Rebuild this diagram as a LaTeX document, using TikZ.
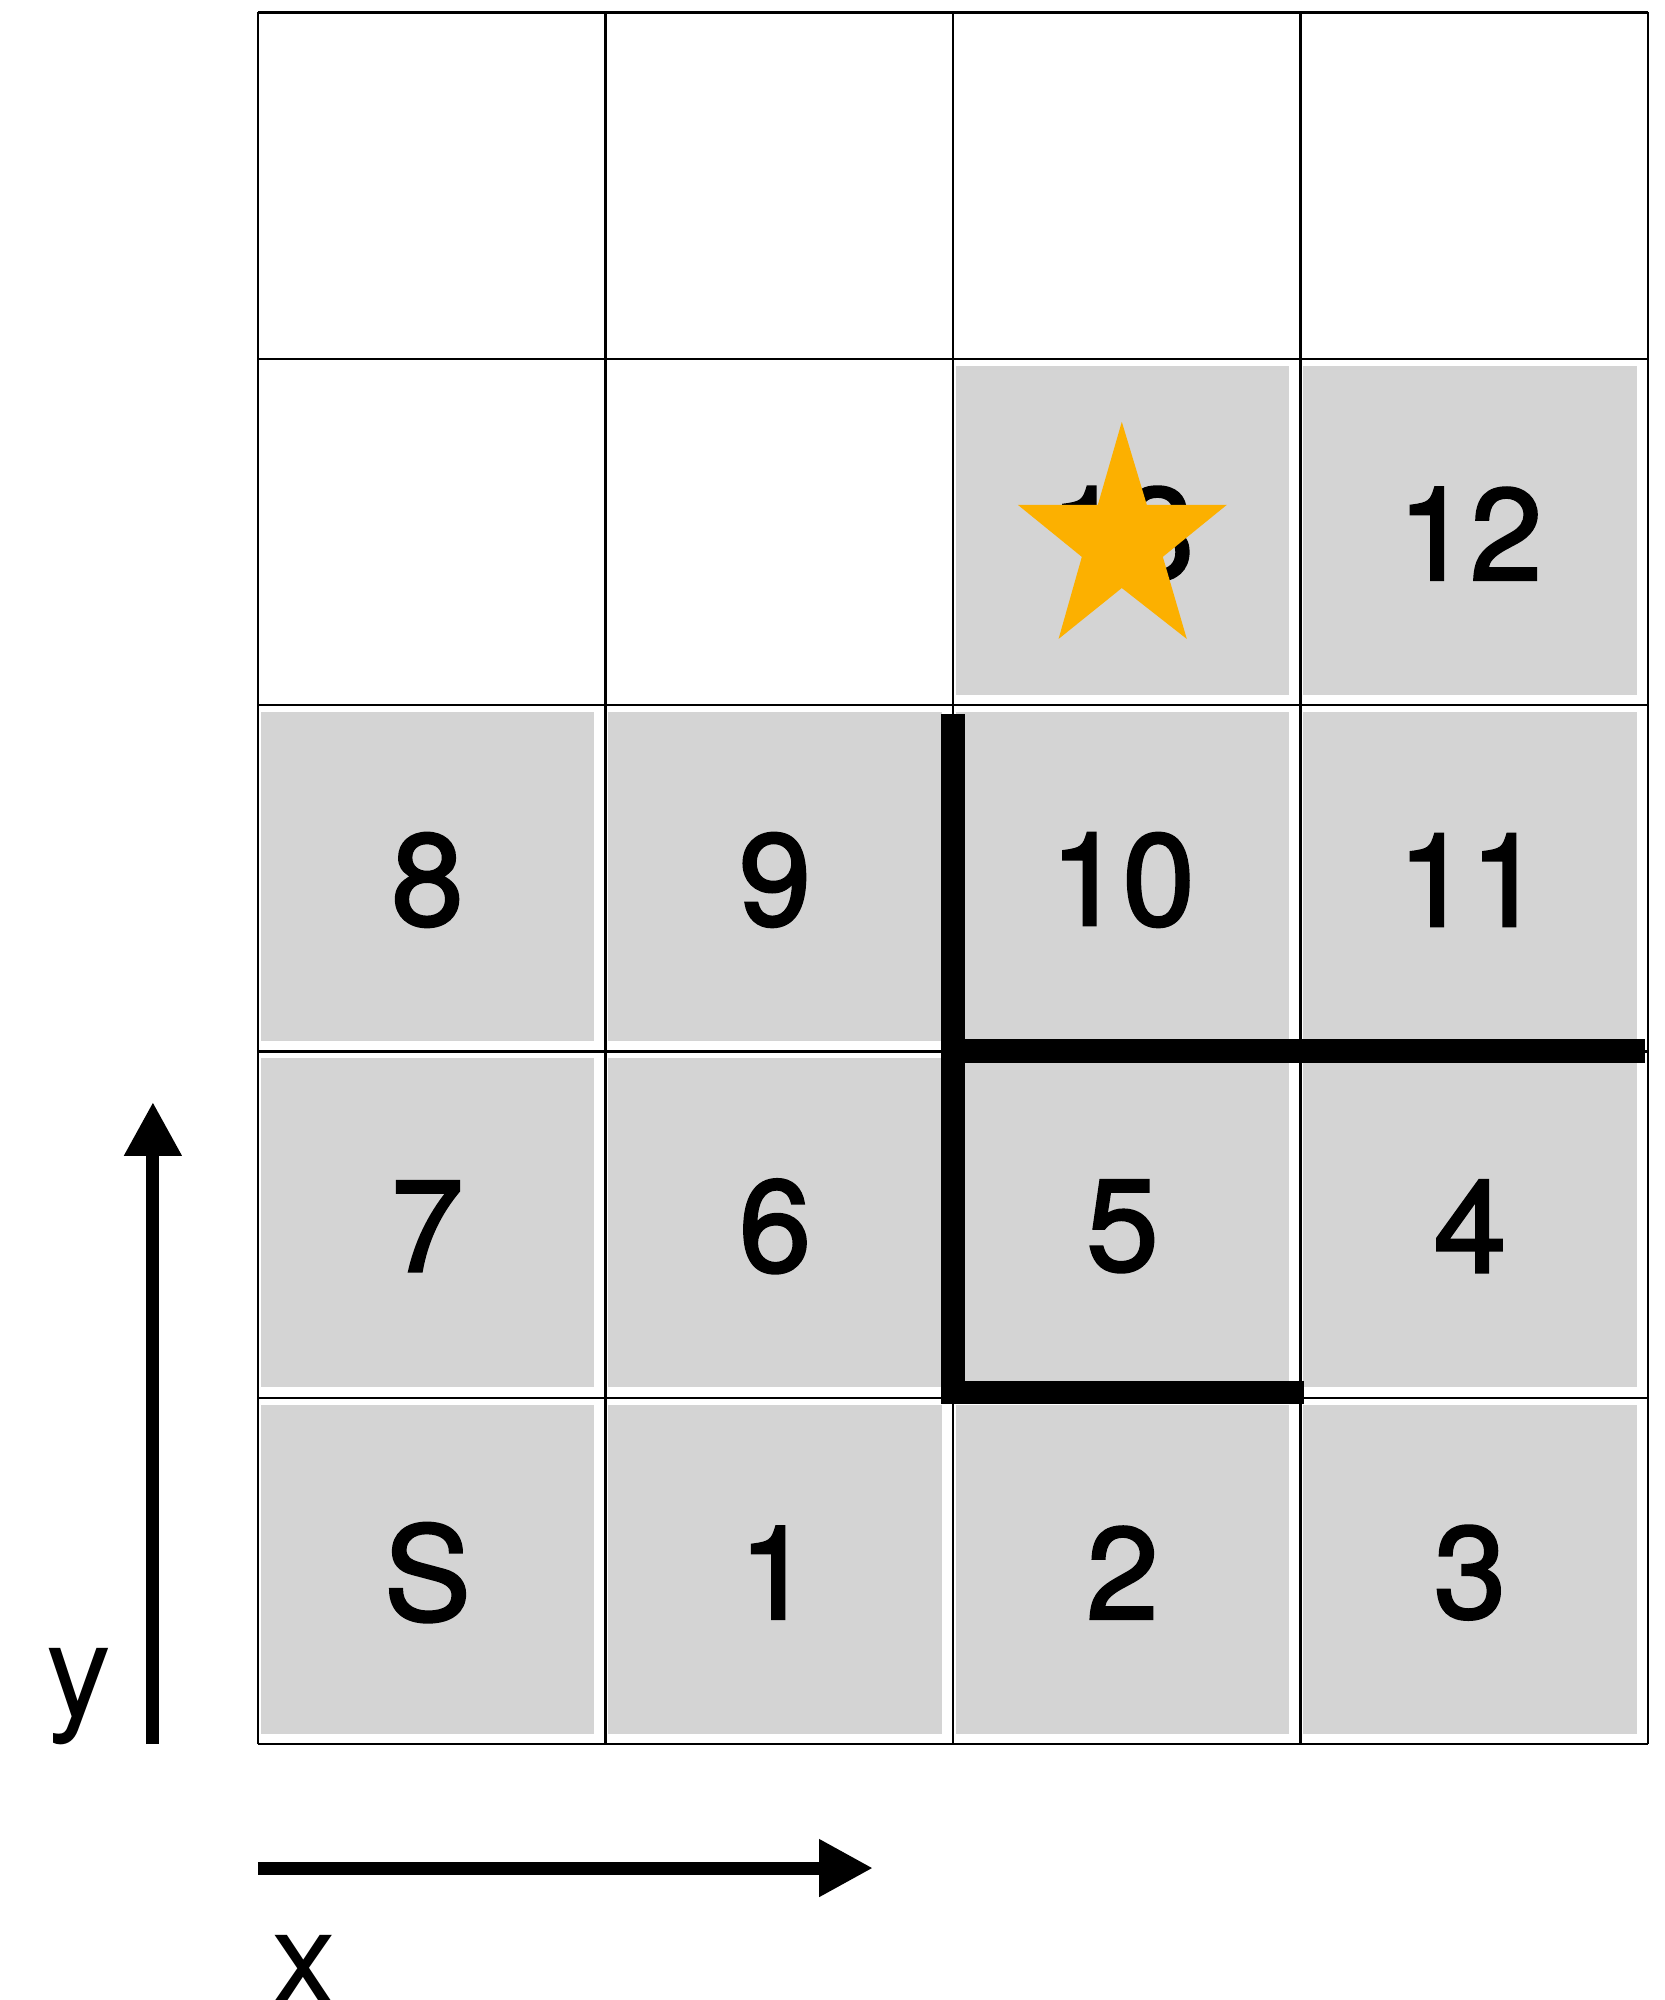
\documentclass[tikz,border=0pt]{standalone}
\usepackage{fontspec}
\setmainfont{TeX Gyre Heros}
\newfontfamily\cellfont[BoldFont={TeX Gyre Heros}, BoldFeatures={FakeBold=2}]{TeX Gyre Heros}
\usetikzlibrary{arrows.meta}
\definecolor{cgrey}{HTML}{D4D4D4}
\definecolor{cgold}{HTML}{FCB000}
\tikzset{
  every picture/.style={font=\fontsize{37}{44}\selectfont},
  cellfill/.style={fill=cgrey},
  cell/.style={inner sep=0pt, anchor=center, font=\fontsize{37}{44}\cellfont\bfseries},
  gridline/.style={line width=0.65pt},
  wall/.style={line width=6.6pt},
  axis/.style={-{Triangle[length=15.3pt, width=15.4pt]}, line width=3.7pt},
  axislabel/.style={inner sep=0pt, anchor=base},
}

\begin{document}
\begin{tikzpicture}[x=3.475cm, y=3.463cm]
  \useasboundingbox (-0.742,-0.739) rectangle (4.049,5.036);
  \foreach \c/\r/\t in {0/0/S, 1/0/1, 2/0/2, 3/0/3, 0/1/7, 1/1/6, 2/1/5, 3/1/4,
                         0/2/8, 1/2/9, 2/2/10, 3/2/11, 2/3/13, 3/3/12} {
    \fill[cellfill] (\c+0.008,\r+0.03) rectangle (\c+0.968,\r+0.98);
    \node[cell] (n\t) at (\c+0.488,\r+0.495) {\t};
  }
  \foreach \c in {0,...,4} \draw[gridline] (\c,0) -- (\c,5);
  \foreach \r in {0,...,5} \draw[gridline] (0,\r) -- (4,\r);
  \fill[cgold] (2.486,3.818) -- (2.558,3.578) -- (2.788,3.578) -- (2.604,3.428)
    -- (2.673,3.191) -- (2.486,3.338) -- (2.304,3.191) -- (2.371,3.428)
    -- (2.187,3.578) -- (2.417,3.578) -- cycle;
  \draw[wall] (2,2.974) -- (2,1.016) -- (3.01,1.016);
  \draw[wall] (2,2.001) -- (3.99,2.001);
  \coordinate (yfoot) at (-0.302,0);
  \coordinate (ytip) at (-0.302,1.854);
  \coordinate (xfoot) at (0,-0.358);
  \coordinate (xtip) at (1.77,-0.358);
  \draw[axis] (yfoot) -- (ytip);
  \draw[axis] (xfoot) -- (xtip);
  \node[axislabel] (ylab) at (-0.515,0.081) {y};
  \node[axislabel] (xlab) at (0.133,-0.748) {x};
\end{tikzpicture}
\end{document}
